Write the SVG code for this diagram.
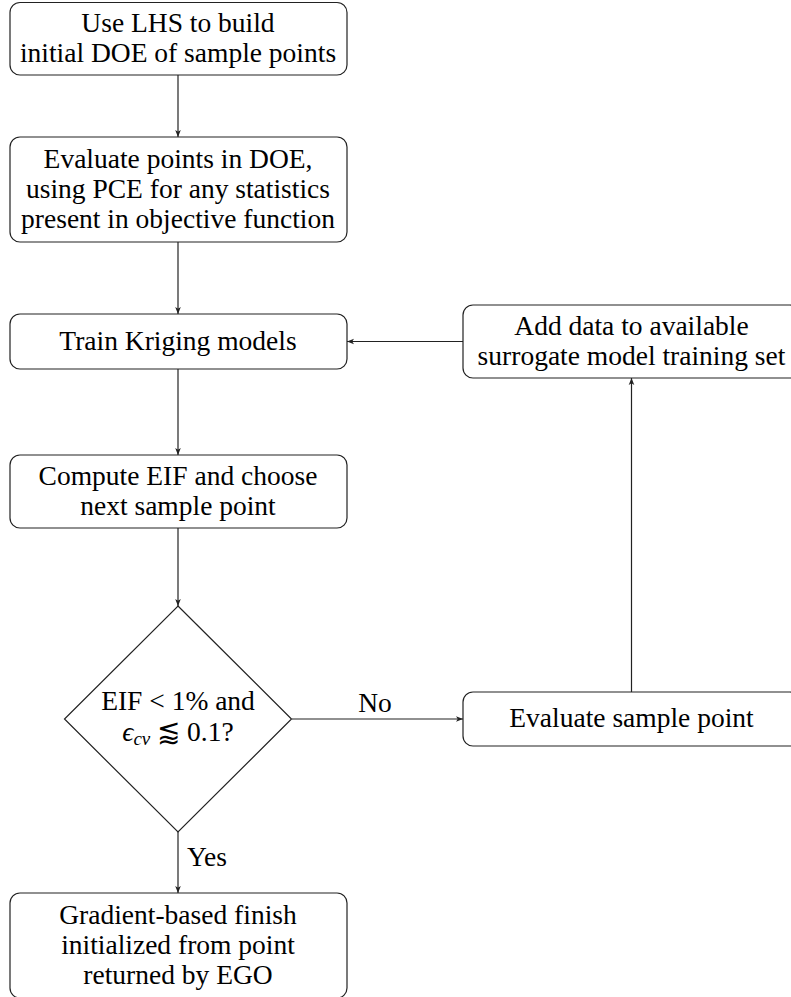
<svg xmlns="http://www.w3.org/2000/svg" width="791" height="997" viewBox="0 0 791 997">
<style>
.box{fill:#fff;stroke:#222;stroke-width:1.2}
text{font-family:'Liberation Serif','DejaVu Serif',serif;font-size:27.5px;fill:#000;text-anchor:middle}
.c{fill:none;stroke:#222;stroke-width:1.2}
</style>
<defs>
<marker id="ah" viewBox="0 0 10 10" refX="10" refY="5" markerWidth="7" markerHeight="7" markerUnits="userSpaceOnUse" orient="auto">
<path d="M0,1 L10,5 L0,9 L2.5,5 z" fill="#222"/>
</marker>
</defs>
<g id="connectors">
<line class="c" x1="178" y1="75" x2="178" y2="137" marker-end="url(#ah)"/>
<line class="c" x1="178" y1="242" x2="178" y2="314" marker-end="url(#ah)"/>
<line class="c" x1="178" y1="369" x2="178" y2="455" marker-end="url(#ah)"/>
<line class="c" x1="178" y1="528" x2="178" y2="606" marker-end="url(#ah)"/>
<line class="c" x1="178" y1="832" x2="178" y2="893" marker-end="url(#ah)"/>
<line class="c" x1="292" y1="719" x2="463" y2="719" marker-end="url(#ah)"/>
<line class="c" x1="631.5" y1="692" x2="631.5" y2="378" marker-end="url(#ah)"/>
<line class="c" x1="463" y1="341.5" x2="347" y2="341.5" marker-end="url(#ah)"/>
<text x="375" y="712">No</text>
<text x="207" y="866">Yes</text>
</g>
<g id="n1">
<rect class="box" x="10" y="2.5" width="337" height="72.5" rx="10"/>
<text x="178" y="31.5">Use LHS to build</text>
<text x="178" y="61.5">initial DOE of sample points</text>
</g>
<g id="n2">
<rect class="box" x="10" y="137" width="337" height="105" rx="10"/>
<text x="178" y="167.5">Evaluate points in DOE,</text>
<text x="178" y="197.5">using PCE for any statistics</text>
<text x="178" y="227.5">present in objective function</text>
</g>
<g id="n3">
<rect class="box" x="10" y="314" width="337" height="55" rx="10"/>
<text x="178" y="349.5">Train Kriging models</text>
</g>
<g id="n4">
<rect class="box" x="10" y="455" width="337" height="73" rx="10"/>
<text x="178" y="484.5">Compute EIF and choose</text>
<text x="178" y="514.5">next sample point</text>
</g>
<g id="n5">
<polygon class="box" points="178,606 291.5,719 178,832 64.5,719"/>
<text x="178" y="710">EIF &lt; 1% and</text>
<text x="178" y="741"><tspan font-style="italic">ϵ</tspan><tspan font-style="italic" font-size="19" dy="4">cv</tspan><tspan dy="-4"> ⪅ 0.1?</tspan></text>
</g>
<g id="n6">
<rect class="box" x="463" y="692" width="337" height="54" rx="10"/>
<text x="631.5" y="727">Evaluate sample point</text>
</g>
<g id="n7">
<rect class="box" x="463" y="305" width="337" height="73" rx="10"/>
<text x="631.5" y="334.5">Add data to available</text>
<text x="631.5" y="364.5">surrogate model training set</text>
</g>
<g id="n8">
<rect class="box" x="10" y="893" width="337" height="105" rx="10"/>
<text x="178" y="923.5">Gradient-based finish</text>
<text x="178" y="953.5">initialized from point</text>
<text x="178" y="983.5">returned by EGO</text>
</g>
</svg>
